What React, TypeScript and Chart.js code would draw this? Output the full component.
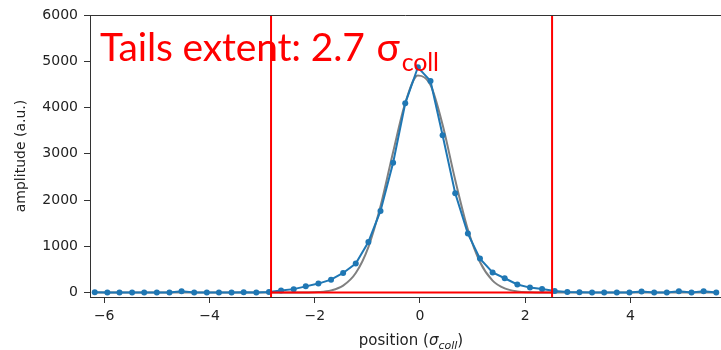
import React, { useEffect, useRef } from "react";
import { Chart, registerables } from "chart.js";

Chart.register(...registerables);

// sample positions (units of sigma_coll)
const positions = [
  -6.18, -5.94, -5.71, -5.47, -5.24, -5.0, -4.76, -4.53, -4.29, -4.05,
  -3.82, -3.58, -3.35, -3.11, -2.87, -2.64, -2.4, -2.17, -1.93, -1.69,
  -1.46, -1.22, -0.98, -0.75, -0.51, -0.28, -0.04, 0.2, 0.43, 0.67,
  0.91, 1.14, 1.38, 1.61, 1.85, 2.09, 2.32, 2.56, 2.8, 3.03,
  3.27, 3.5, 3.74, 3.98, 4.21, 4.45, 4.69, 4.92, 5.16, 5.39, 5.63,
];

// measured amplitude (blue dots)
const measured = [
  5, 0, 3, 0, 2, 0, 4, 30, 0, 3,
  0, 2, 5, 0, 15, 45, 75, 135, 195, 280,
  425, 630, 1095, 1765, 2805, 4090, 4870, 4575, 3400, 2145,
  1275, 735, 435, 310, 175, 108, 78, 35, 12, 5,
  0, 3, 0, 2, 25, 0, 3, 28, 0, 30, 0,
];

// gaussian fit (grey curve)
const fitted = [
  0, 0, 0, 0, 0, 0, 0, 0, 0, 0,
  0, 0, 0, 0, 0, 0, 0, 2, 12, 48,
  152, 424, 985, 1864, 3040, 4099, 4693, 4486, 3627, 2434,
  1364, 661, 260, 90, 25, 6, 0, 0, 0, 0,
  0, 0, 0, 0, 0, 0, 0, 0, 0, 0, 0,
];

const tailLeft = -2.83;
const tailRight = 2.51;

const xTicks = [-6, -4, -2, 0, 2, 4];
const yTicks = [0, 1000, 2000, 3000, 4000, 5000, 6000];

const xMin = -6.27;
const xMax = 5.72;
const yMin = -95;
const yMax = 6000;

const tickFont = { family: "DejaVu Sans", size: 14 };
const inkColor = "#222222";
const spineColor = "#333333";

export default function App() {
  const canvasRef = useRef<HTMLCanvasElement>(null);

  useEffect(() => {
    const canvas = canvasRef.current;
    if (!canvas) return;

    const topSpine = {
      id: "topSpine",
      afterDraw(chart: any) {
        const { ctx, chartArea } = chart;
        ctx.save();
        ctx.strokeStyle = spineColor;
        ctx.lineWidth = 1;
        ctx.beginPath();
        ctx.moveTo(chartArea.left, chartArea.top + 0.5);
        ctx.lineTo(chartArea.right, chartArea.top + 0.5);
        ctx.stroke();
        ctx.restore();
      },
    };

    const chart = new Chart(canvas, {
      type: "scatter",
      data: {
        datasets: [
          {
            label: "fit",
            data: positions.map((x, i) => ({ x, y: fitted[i] })),
            showLine: true,
            borderColor: "#808080",
            borderWidth: 2,
            pointRadius: 0,
            cubicInterpolationMode: "monotone",
            order: 2,
          },
          {
            label: "measured",
            data: positions.map((x, i) => ({ x, y: measured[i] })),
            showLine: true,
            borderColor: "#1f77b4",
            backgroundColor: "#1f77b4",
            borderWidth: 2,
            pointRadius: 3,
            pointBorderWidth: 0,
            pointBackgroundColor: "#1f77b4",
            order: 1,
          },
          {
            label: "left",
            data: [
              { x: tailLeft, y: yMin },
              { x: tailLeft, y: yMax },
            ],
            showLine: true,
            borderColor: "#ff0000",
            borderWidth: 2,
            pointRadius: 0,
            order: 0,
          },
          {
            label: "right",
            data: [
              { x: tailRight, y: yMin },
              { x: tailRight, y: yMax },
            ],
            showLine: true,
            borderColor: "#ff0000",
            borderWidth: 2,
            pointRadius: 0,
            order: 0,
          },
          {
            label: "base",
            data: [
              { x: tailLeft, y: 0 },
              { x: tailRight, y: 0 },
            ],
            showLine: true,
            borderColor: "#ff0000",
            borderWidth: 2,
            pointRadius: 0,
            order: 0,
          },
        ],
      },
      options: {
        animation: false,
        responsive: true,
        maintainAspectRatio: false,
        layout: {
          autoPadding: false,
          padding: { top: 15, right: 0, left: 0, bottom: 0 },
        },
        plugins: {
          legend: { display: false },
          tooltip: { enabled: false },
        },
        scales: {
          x: {
            type: "linear",
            min: xMin,
            max: xMax,
            afterBuildTicks: (scale: any) => {
              scale.ticks = xTicks.map((v) => ({ value: v }));
            },
            afterFit: (scale: any) => {
              scale.height = 53;
              scale.paddingLeft = 0;
              scale.paddingRight = 0;
            },
            ticks: {
              font: tickFont,
              color: inkColor,
              padding: 5,
              maxRotation: 0,
              autoSkip: false,
              callback: (v: any) => String(v).replace("-", "\u2212"),
            },
            grid: {
              drawOnChartArea: false,
              drawTicks: true,
              tickLength: 6,
              tickColor: spineColor,
              color: spineColor,
            },
            border: { display: true, color: spineColor, width: 1 },
          },
          y: {
            type: "linear",
            min: yMin,
            max: yMax,
            afterBuildTicks: (scale: any) => {
              scale.ticks = yTicks.map((v) => ({ value: v }));
            },
            afterFit: (scale: any) => {
              scale.width = 90;
            },
            ticks: {
              font: tickFont,
              color: inkColor,
              padding: 6,
              autoSkip: false,
              callback: (v: any) => String(v),
            },
            grid: {
              drawOnChartArea: false,
              drawTicks: true,
              tickLength: 6,
              tickColor: spineColor,
              color: spineColor,
            },
            border: { display: true, color: spineColor, width: 1 },
            title: {
              display: true,
              text: "amplitude (a.u.)",
              font: tickFont,
              color: inkColor,
              padding: { top: 13, bottom: 0 },
            },
          },
        },
      },
      plugins: [topSpine],
    } as any);

    return () => chart.destroy();
  }, []);

  return (
    <div
      style={{
        position: "fixed",
        left: 0,
        top: 0,
        width: 721,
        height: 350,
        background: "#ffffff",
        overflow: "hidden",
      }}
    >
      <canvas ref={canvasRef} />
      <div
        style={{
          position: "absolute",
          left: 100,
          top: 27,
          color: "#ff0000",
          fontFamily: "Lato, 'Open Sans', sans-serif",
          fontSize: 39,
          lineHeight: 1,
          whiteSpace: "nowrap",
          letterSpacing: "-0.15px",
        }}
      >
        Tails extent: 2.7 <span style={{ marginLeft: 2 }}>σ</span>
        <span style={{ fontSize: 25, position: "relative", top: 10, marginLeft: 2 }}>coll</span>
      </div>
      <div
        style={{
          position: "absolute",
          left: 411,
          top: 332,
          transform: "translateX(-50%)",
          color: inkColor,
          fontFamily: "'DejaVu Sans', sans-serif",
          fontSize: 15,
          lineHeight: "16px",
          whiteSpace: "nowrap",
        }}
      >
        position (
        <i>
          σ<sub style={{ fontSize: 11 }}>coll</sub>
        </i>
        )
      </div>
    </div>
  );
}
